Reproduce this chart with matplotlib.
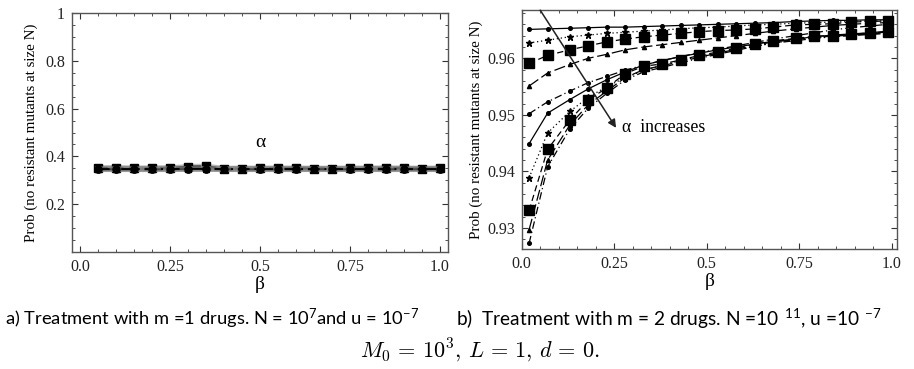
import matplotlib
matplotlib.use("Agg")
import matplotlib.pyplot as plt
from matplotlib.ticker import MultipleLocator, FixedLocator

# ---------------- data ----------------
# panel a) m = 1 drug
beta_a = [0.05, 0.10, 0.15, 0.20, 0.25, 0.30, 0.35, 0.40, 0.45, 0.50,
          0.55, 0.60, 0.65, 0.70, 0.75, 0.80, 0.85, 0.90, 0.95, 1.00]
prob_a1 = [0.348, 0.348, 0.348, 0.348, 0.348, 0.348, 0.348, 0.348, 0.348, 0.348,
           0.348, 0.348, 0.348, 0.348, 0.348, 0.348, 0.348, 0.348, 0.348, 0.348]
prob_a2 = [0.350, 0.350, 0.349, 0.350, 0.350, 0.351, 0.351, 0.349, 0.349, 0.349,
           0.349, 0.349, 0.349, 0.349, 0.349, 0.349, 0.349, 0.349, 0.349, 0.349]
prob_a3 = [0.351, 0.352, 0.350, 0.350, 0.351, 0.357, 0.358, 0.349, 0.349, 0.350,
           0.350, 0.350, 0.349, 0.349, 0.350, 0.350, 0.351, 0.350, 0.349, 0.350]
prob_a4 = [0.346, 0.346, 0.346, 0.346, 0.346, 0.347, 0.347, 0.346, 0.346, 0.346,
           0.346, 0.346, 0.346, 0.346, 0.346, 0.346, 0.346, 0.346, 0.346, 0.346]
prob_a5 = [0.347, 0.347, 0.347, 0.347, 0.347, 0.348, 0.348, 0.347, 0.347, 0.347,
           0.347, 0.347, 0.347, 0.347, 0.347, 0.347, 0.347, 0.347, 0.347, 0.347]
series_a = [prob_a1, prob_a2, prob_a3, prob_a4, prob_a5]

# panel b) m = 2 drugs, one curve per alpha (alpha increasing downwards)
beta_b = [0.02, 0.07, 0.13, 0.18, 0.23, 0.28, 0.33, 0.38, 0.43, 0.48,
          0.53, 0.58, 0.63, 0.68, 0.74, 0.79, 0.84, 0.89, 0.94, 0.99]
prob_b1 = [0.9651, 0.9652, 0.9653, 0.9654, 0.9655, 0.9655, 0.9656, 0.9657, 0.9658, 0.9659,
           0.9660, 0.9661, 0.9662, 0.9663, 0.9665, 0.9666, 0.9667, 0.9667, 0.9668, 0.9668]
prob_b2 = [0.9627, 0.9632, 0.9638, 0.9641, 0.9644, 0.9646, 0.9648, 0.9650, 0.9652, 0.9654,
           0.9655, 0.9657, 0.9659, 0.9660, 0.9662, 0.9663, 0.9664, 0.9665, 0.9666, 0.9666]
prob_b3 = [0.9591, 0.9605, 0.9615, 0.9622, 0.9629, 0.9634, 0.9638, 0.9641, 0.9644, 0.9647,
           0.9649, 0.9650, 0.9652, 0.9655, 0.9659, 0.9660, 0.9661, 0.9664, 0.9665, 0.9666]
prob_b4 = [0.9551, 0.9574, 0.9589, 0.9600, 0.9607, 0.9615, 0.9620, 0.9624, 0.9628, 0.9632,
           0.9636, 0.9640, 0.9644, 0.9648, 0.9652, 0.9655, 0.9658, 0.9660, 0.9662, 0.9663]
prob_b5 = [0.9502, 0.9523, 0.9542, 0.9557, 0.9568, 0.9579, 0.9588, 0.9596, 0.9603, 0.9610,
           0.9616, 0.9622, 0.9628, 0.9634, 0.9640, 0.9645, 0.9650, 0.9654, 0.9657, 0.9660]
prob_b6 = [0.9449, 0.9503, 0.9527, 0.9546, 0.9562, 0.9576, 0.9588, 0.9596, 0.9603, 0.9609,
           0.9615, 0.9620, 0.9625, 0.9630, 0.9634, 0.9638, 0.9641, 0.9643, 0.9645, 0.9648]
prob_b7 = [0.9389, 0.9468, 0.9506, 0.9531, 0.9550, 0.9566, 0.9578, 0.9588, 0.9596, 0.9603,
           0.9609, 0.9615, 0.9621, 0.9627, 0.9632, 0.9636, 0.9639, 0.9642, 0.9644, 0.9646]
prob_b8 = [0.9331, 0.9439, 0.9491, 0.9526, 0.9548, 0.9573, 0.9586, 0.9590, 0.9597, 0.9605,
           0.9611, 0.9618, 0.9625, 0.9631, 0.9635, 0.9639, 0.9640, 0.9642, 0.9645, 0.9646]
prob_b9 = [0.9297, 0.9420, 0.9482, 0.9518, 0.9542, 0.9566, 0.9580, 0.9587, 0.9594, 0.9602,
           0.9609, 0.9616, 0.9623, 0.9629, 0.9633, 0.9637, 0.9639, 0.9641, 0.9643, 0.9645]
prob_b10 = [0.9273, 0.9408, 0.9475, 0.9512, 0.9538, 0.9562, 0.9576, 0.9584, 0.9592, 0.9600,
            0.9607, 0.9614, 0.9621, 0.9627, 0.9631, 0.9635, 0.9638, 0.9640, 0.9642, 0.9644]
series_b = [prob_b1, prob_b2, prob_b3, prob_b4, prob_b5,
            prob_b6, prob_b7, prob_b8, prob_b9, prob_b10]

ticks_a_x = [0.0, 0.25, 0.5, 0.75, 1.0]
ticklabels_a_x = ["0.0", "0.25", "0.5", "0.75", "1.0"]
ticks_a_y = [0.2, 0.4, 0.6, 0.8, 1.0]
ticklabels_a_y = ["0.2", "0.4", "0.6", "0.8", "1"]
ticks_b_y = [0.93, 0.94, 0.95, 0.96]
ticklabels_b_y = ["0.93", "0.94", "0.95", "0.96"]

# line / marker styles cycling over the alpha family
styles = [
    dict(ls="-", marker="o", ms=2.6),
    dict(ls=(0, (1, 2.2)), marker="*", ms=4.5),
    dict(ls=(0, (5, 3)), marker="s", ms=6.5),
    dict(ls=(0, (9, 3)), marker="^", ms=3.0),
    dict(ls=(0, (6, 2.5, 1, 2.5)), marker="o", ms=2.6),
]
# marker sizes used for the (much more crowded) single-drug panel
sizes_a = [5.0, 6.0, 6.0, 4.5, 5.0]

SERIF = ["Liberation Serif", "DejaVu Serif"]
FRAME = "#555555"

fig = plt.figure(figsize=(9.14, 3.69), dpi=100)
W, H = 914, 369


def add_axes_px(x0, y0, x1, y1):
    return fig.add_axes([x0 / W, 1 - y1 / H, (x1 - x0) / W, (y1 - y0) / H])


def style_axes(ax):
    for sp in ax.spines.values():
        sp.set_color(FRAME)
        sp.set_linewidth(1.0)
    ax.tick_params(which="both", direction="in", top=True, right=True,
                   color="#333333", labelsize=11.5, pad=5)
    ax.tick_params(which="major", length=4, width=0.8)
    ax.tick_params(which="minor", length=2, width=0.6)
    for lab in ax.get_xticklabels() + ax.get_yticklabels():
        lab.set_family(SERIF)
        lab.set_color("#222222")


# ---------------- panel a ----------------
axa = add_axes_px(72, 13, 448, 252)
for i, vals in enumerate(series_a):
    st = styles[i % len(styles)]
    axa.plot(beta_a, vals, color="#888888", lw=4.0, ls="-", alpha=0.5)
    axa.plot(beta_a, vals, color="black", lw=1.4, ls=st["ls"],
             marker=st["marker"], ms=sizes_a[i], mfc="black", mec="black")
axa.set_xlim(-0.022, 1.022)
axa.set_ylim(0.0, 1.0)
axa.xaxis.set_major_locator(FixedLocator(ticks_a_x))
axa.set_xticklabels(ticklabels_a_x)
axa.xaxis.set_minor_locator(MultipleLocator(0.05))
axa.yaxis.set_major_locator(FixedLocator(ticks_a_y))
axa.set_yticklabels(ticklabels_a_y)
axa.yaxis.set_minor_locator(MultipleLocator(0.05))
style_axes(axa)
axa.set_xlabel("β", family=SERIF, fontsize=14, labelpad=1)
axa.set_ylabel("Prob (no resistant mutants at size N)", family=SERIF,
               fontsize=10.8, labelpad=5)
axa.text(0.5, 0.46, "α", family=SERIF, fontsize=14, ha="center", va="center")

# ---------------- panel b ----------------
axb = add_axes_px(521.7, 10, 897, 249)
for i, vals in enumerate(series_b):
    st = styles[i % len(styles)]
    axb.plot(beta_b, vals, color="black", lw=0.9, ls=st["ls"],
             marker=st["marker"], ms=st["ms"], mfc="black", mec="black")
axb.set_xlim(0.0, 1.014)
axb.set_ylim(0.92629, 0.96853)
axb.xaxis.set_major_locator(FixedLocator(ticks_a_x))
axb.set_xticklabels(ticklabels_a_x)
axb.xaxis.set_minor_locator(MultipleLocator(0.05))
axb.yaxis.set_major_locator(FixedLocator(ticks_b_y))
axb.set_yticklabels(ticklabels_b_y)
axb.yaxis.set_minor_locator(MultipleLocator(0.002))
style_axes(axb)
axb.set_xlabel("β", family=SERIF, fontsize=14, labelpad=1)
axb.set_ylabel("Prob (no resistant mutants at size N)", family=SERIF,
               fontsize=10.8, labelpad=3)

# arrow showing the direction of increasing alpha
axb.annotate("", xy=(0.255, 0.9477), xytext=(0.05, 0.9685),
             arrowprops=dict(arrowstyle="-|>", color="#222222", lw=1.1,
                             mutation_scale=12, shrinkA=0, shrinkB=0))
axb.text(0.27, 0.9477, "α  increases", family=SERIF, fontsize=12.8,
         ha="left", va="center")

# ---------------- captions ----------------
CAP = ["Lato", "DejaVu Sans"]
fig.text(5 / W, 1 - 319 / H,
         r"a) Treatment with m =1 drugs. N = $\mathregular{10^{7}}$and u = $\mathregular{10^{-7}}$",
         family=CAP, fontsize=13.2, ha="left", va="center")
fig.text(456 / W, 1 - 319 / H,
         r"b)  Treatment with m = 2 drugs. N =$\mathregular{10\ ^{11}}$, u =$\mathregular{10\ ^{-7}}$",
         family=CAP, fontsize=13.8, ha="left", va="center")
fig.text(480 / W, 1 - 350 / H, r"$M_0\,=\,10^3,\,L\,=\,1,\,d\,=\,0.$",
         fontsize=16, ha="center", va="center", math_fontfamily="cm")

fig.savefig("out.png", dpi=100)
